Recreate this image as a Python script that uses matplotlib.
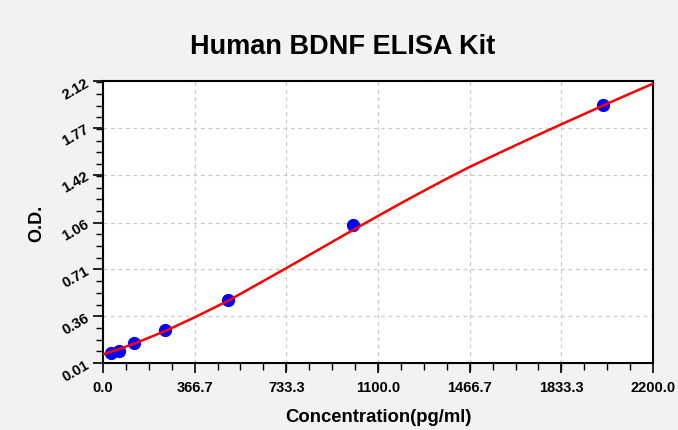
import numpy as np
import matplotlib
matplotlib.use('Agg')
import matplotlib.pyplot as plt
from matplotlib.ticker import FixedLocator, AutoMinorLocator

plt.rcParams['font.family'] = ['Liberation Sans', 'DejaVu Sans']

# standards (pg/ml) and measured O.D.
std_conc = [31.25, 62.5, 125, 250, 500, 1000, 2000]
std_od = [0.085, 0.10, 0.158, 0.256, 0.48, 1.045, 1.937]

# fitted curve
curve_conc = [0, 62.5, 125, 250, 366.7, 500, 733.3, 1000, 1100, 1200, 1300,
              1400, 1466.7, 1600, 1700, 1833.3, 2000, 2100, 2200]
curve_od = [0.075, 0.113, 0.155, 0.25, 0.352, 0.475, 0.72, 1.005, 1.11, 1.214,
            1.315, 1.413, 1.477, 1.595, 1.682, 1.796, 1.936, 2.019, 2.10]

x_ticks = [0.0, 366.7, 733.3, 1100.0, 1466.7, 1833.3, 2200.0]
y_ticks = [0.01, 0.36, 0.71, 1.06, 1.42, 1.77, 2.12]

fig = plt.figure(figsize=(6.78, 4.31), dpi=100, facecolor='#f2f2f2')
ax = fig.add_axes([0.1519, 0.1555, 0.8112, 0.6543])
ax.set_facecolor('white')

ax.plot(curve_conc, curve_od, color='red', lw=1.8, zorder=3)
ax.plot(std_conc, std_od, 'o', color='blue', ms=8.5, zorder=2)

ax.set_xlim(0, 2200)
ax.set_ylim(0.01, 2.12)
ax.xaxis.set_major_locator(FixedLocator(x_ticks))
ax.yaxis.set_major_locator(FixedLocator(y_ticks))
ax.xaxis.set_minor_locator(AutoMinorLocator(4))
ax.yaxis.set_minor_locator(AutoMinorLocator(4))
ax.set_xticklabels([f'{v:.1f}' for v in x_ticks], fontsize=10.5, fontweight='bold')
ax.set_yticklabels([f'{v:.2f}' for v in y_ticks], fontsize=10.5, fontweight='bold',
                   rotation=30, ha='right', va='center', rotation_mode='anchor')

ax.tick_params(which='major', length=7, width=1.2, direction='out', color='black')
ax.tick_params(which='minor', length=5, width=1.0, direction='out', color='black')
ax.tick_params(axis='x', pad=5)
ax.tick_params(axis='y', pad=4)

ax.grid(True, which='major', linestyle=(0, (3, 3)), color='#c8c8c8', lw=0.9)
ax.set_axisbelow(True)
for s in ax.spines.values():
    s.set_linewidth(1.5)
    s.set_color('black')

fig.text(0.505, 0.891, 'Human BDNF ELISA Kit', fontsize=19.5, fontweight='bold',
         ha='center', va='center')
ax.set_xlabel('Concentration(pg/ml)', fontsize=13.3, fontweight='bold', labelpad=10)
ax.set_ylabel('O.D.', fontsize=13, fontweight='bold', labelpad=10)

fig.savefig('out.png', dpi=100, facecolor=fig.get_facecolor())
